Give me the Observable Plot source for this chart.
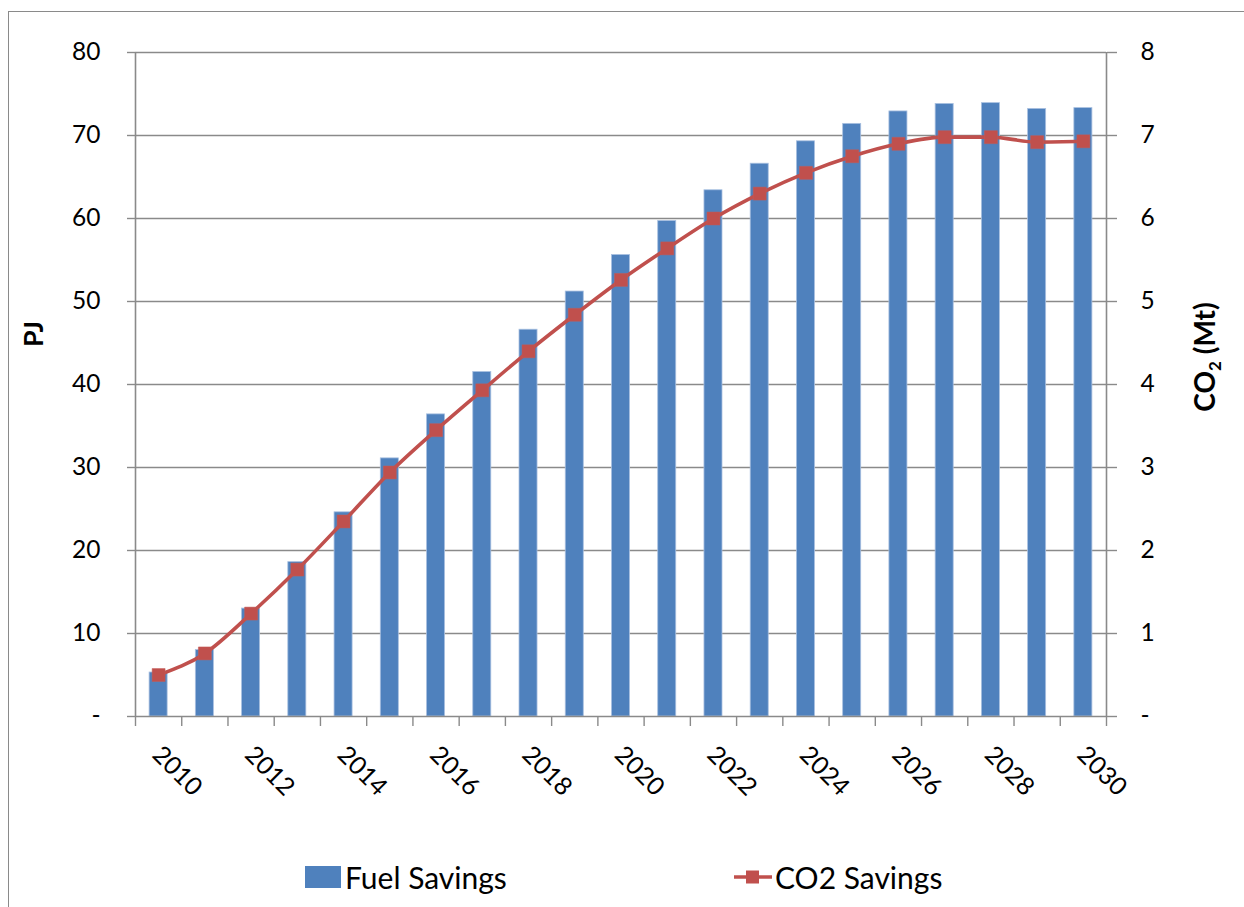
<!DOCTYPE html>
<html>
<head>
<meta charset="utf-8">
<script src="https://cdn.jsdelivr.net/npm/d3@7"></script>
<script src="https://cdn.jsdelivr.net/npm/@observablehq/plot@0.6"></script>
<style>
  html, body { margin: 0; padding: 0; background: #fff; }
  body { width: 1244px; height: 907px; overflow: hidden; position: relative; font-family: Lato, "Open Sans", sans-serif; }
  #frame { position: absolute; left: 8px; top: 11px; width: 1400px; height: 1000px; border-left: 1.5px solid #8a8a8a; border-top: 1.5px solid #8a8a8a; pointer-events: none; }
  #chart { position: absolute; left: 0; top: 0; }
  #legend { position: absolute; left: 0; top: 857px; width: 1244px; height: 40px; font-family: Lato, sans-serif; font-size: 30px; color: #000; }
  .item { position: absolute; top: 0; display: flex; align-items: center; height: 40px; }
  .swatch { width: 36px; height: 22px; background: #4F81BD; margin-right: 4px; }
</style>
</head>
<body>
<div id="frame"></div>
<div id="chart"></div>
<div id="legend">
  <div class="item" style="left:305px"><div class="swatch"></div><span>Fuel Savings</span></div>
  <div class="item" style="left:733px"><svg width="40" height="22" style="margin-right:2px"><line x1="1" y1="11" x2="39" y2="11" stroke="#C0504D" stroke-width="3.5"/><rect x="13" y="4.5" width="13" height="13" fill="#C0504D"/></svg><span>CO2 Savings</span></div>
</div>
<script>
const years = [2010, 2011, 2012, 2013, 2014, 2015, 2016, 2017, 2018, 2019, 2020, 2021, 2022, 2023, 2024, 2025, 2026, 2027, 2028, 2029, 2030];
const fuelSavingsPJ = [5.3, 8.0, 13.0, 18.6, 24.6, 31.1, 36.4, 41.5, 46.6, 51.2, 55.6, 59.7, 63.4, 66.6, 69.3, 71.4, 72.9, 73.8, 73.9, 73.2, 73.3];
const co2SavingsMt = [0.50, 0.76, 1.24, 1.77, 2.35, 2.94, 3.45, 3.93, 4.40, 4.84, 5.26, 5.64, 6.00, 6.30, 6.55, 6.75, 6.90, 6.98, 6.98, 6.92, 6.93];
const leftTicks = [0, 10, 20, 30, 40, 50, 60, 70, 80];
const rightTicks = [0, 1, 2, 3, 4, 5, 6, 7, 8];
const yearLabels = [2010, 2012, 2014, 2016, 2018, 2020, 2022, 2024, 2026, 2028, 2030];

const rightScaleFactor = 10; // CO2 axis 0–8 maps onto PJ axis 0–80
const data = years.map((year, i) => ({year, fuel: fuelSavingsPJ[i], co2: co2SavingsMt[i], co2y: co2SavingsMt[i] * rightScaleFactor}));
const xMin = years[0] - 0.5, xMax = years[years.length - 1] + 0.5;
const boundaries = years.map(y => y - 0.5).concat([xMax]);
const halfBar = 0.195;
const gray = "#8a8a8a";

const chart = Plot.plot({
  width: 1244,
  height: 840,
  marginLeft: 135,
  marginRight: 138,
  marginTop: 52,
  marginBottom: 124,
  style: {fontFamily: "Lato, 'Open Sans', sans-serif", background: "transparent"},
  x: {type: "linear", domain: [xMin, xMax], axis: null},
  y: {domain: [0, 80], axis: null},
  marks: [
    Plot.ruleY(leftTicks.filter(d => d > 0), {x1: xMin, x2: xMax, stroke: gray, strokeWidth: 1.4}),
    Plot.axisY({anchor: "left", ticks: leftTicks, tickSize: 8, tickPadding: 27, fontSize: 24.5, stroke: gray, strokeWidth: 1.4, fill: "#000", tickFormat: d => d === 0 ? "-" : String(d), label: null}),
    Plot.axisY({anchor: "right", ticks: rightTicks.map(d => d * rightScaleFactor), tickSize: 10, tickPadding: 24, fontSize: 24.5, stroke: gray, strokeWidth: 1.4, fill: "#000", tickFormat: d => d === 0 ? "-" : String(d / rightScaleFactor), label: null}),
    Plot.axisX({ticks: boundaries, tickSize: 10, stroke: gray, strokeWidth: 1.4, tickFormat: () => "", label: null}),
    Plot.rectY(data, {x1: d => d.year - halfBar, x2: d => d.year + halfBar, y: "fuel", fill: "#4F81BD", stroke: "#A9C0E0", strokeWidth: 0.8}),
    Plot.ruleX([xMin, xMax], {y1: 0, y2: 80, stroke: gray, strokeWidth: 1.6}),
    Plot.ruleY([0], {x1: xMin, x2: xMax, stroke: gray, strokeWidth: 1.6}),
    Plot.line(data, {x: "year", y: "co2y", stroke: "#C0504D", strokeWidth: 3.6, curve: "monotone-x"}),
    Plot.dot(data, {x: "year", y: "co2y", symbol: "square", r: 7.3, fill: "#C0504D", stroke: "#C55A57", strokeWidth: 0.5}),
    Plot.text(yearLabels, {x: d => d, y: 0, text: d => String(d), rotate: 45, textAnchor: "start", dx: -2, dy: 34, fontSize: 25, fill: "#000"})
  ]
});

const svg = d3.select(chart);
svg.append("text")
  .attr("transform", "translate(43,334) rotate(-90)")
  .attr("text-anchor", "middle")
  .attr("font-family", "Lato, sans-serif")
  .attr("font-weight", "bold")
  .attr("font-size", 27)
  .attr("fill", "#000")
  .text("PJ");
const co2t = svg.append("text")
  .attr("transform", "translate(1215,357) rotate(-90)")
  .attr("text-anchor", "middle")
  .attr("font-family", "Lato, sans-serif")
  .attr("font-weight", "bold")
  .attr("font-size", 28)
  .attr("fill", "#000");
co2t.append("tspan").text("CO");
co2t.append("tspan").attr("font-size", 17).attr("dy", 6).text("2");
co2t.append("tspan").attr("dy", -6).text(" (Mt)");

document.getElementById("chart").appendChild(chart);
</script>
</body>
</html>
